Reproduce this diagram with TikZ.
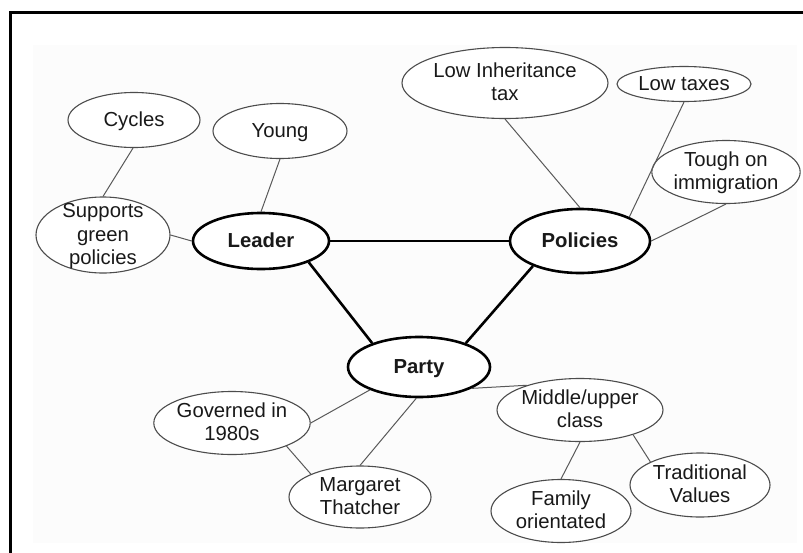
\documentclass[tikz,border=0pt]{standalone}
\usepackage{fontspec}
\setmainfont{Liberation Sans}
\usetikzlibrary{shapes.geometric}
\newcommand\ctx[1]{\smash{\raisebox{-6.5pt}{\begin{tabular}{@{}c@{}}#1\end{tabular}}}}
\begin{document}
\begin{tikzpicture}[x=1pt,y=-1pt,
  bub/.style={ellipse, draw=black!70, line width=1.1pt, inner sep=0pt, fill=white,
              font=\fontsize{20.3}{23.5}\selectfont, text=black!90},
  hub/.style={bub, draw=black, line width=2.6pt, font=\fontsize{20.3}{23.5}\selectfont\bfseries},
  thinline/.style={draw=black!65, line width=1pt},
  thickline/.style={draw=black, line width=2.6pt}]
\useasboundingbox (0,0) rectangle (803,552);
\fill[black!1] (33,45) rectangle (797,543);
\draw[line width=3pt, line cap=rect] (10,552) -- (10,12) -- (803,12);

% hubs
\node[hub, minimum width=136pt, minimum height=56pt] (leader) at (261,241) {\ctx{Leader}};
\node[hub, minimum width=140pt, minimum height=64pt] (policies) at (580,241) {\ctx{Policies}};
\node[hub, minimum width=142pt, minimum height=60pt] (party) at (419,367) {\ctx{Party}};

% leader branch
\node[bub, minimum width=132pt, minimum height=55pt] (cycles) at (134,120) {\ctx{Cycles}};
\node[bub, minimum width=134pt, minimum height=55pt] (young) at (280,131) {\ctx{Young}};
\node[bub, minimum width=134pt, minimum height=76pt] (green) at (103,235) {\ctx{Supports\\green\\policies}};

% policies branch
\node[bub, minimum width=206pt, minimum height=71pt] (inherit) at (505,83) {\ctx{Low Inheritance\\tax}};
\node[bub, minimum width=134pt, minimum height=35pt] (taxes) at (684,84) {\ctx{Low taxes}};
\node[bub, minimum width=142pt, minimum height=63pt] (tough) at (726,172) {\ctx{Tough on\\immigration}};

% party branch
\node[bub, minimum width=140pt, minimum height=63pt] (governed) at (232,423) {\ctx{Governed in\\1980s}};
\node[bub, minimum width=142pt, minimum height=62pt] (thatcher) at (360,497) {\ctx{Margaret\\Thatcher}};
\node[bub, minimum width=140pt, minimum height=63pt] (middle) at (580,410) {\ctx{Middle/upper\\class}};
\node[bub, minimum width=140pt, minimum height=63pt] (family) at (561,511) {\ctx{Family\\orientated}};
\node[bub, minimum width=140pt, minimum height=64pt] (values) at (700,485) {\ctx{Traditional\\Values}};

% thick connectors
\draw[thickline] (leader.east) -- (policies.west);
\draw[thickline] (leader.-24) -- (party.153);
\draw[thickline] (policies.-152) -- (party.27);

% thin connectors
\draw[thinline] (cycles.-92) -- (green.north);
\draw[thinline] (young.south) -- (leader.north);
\draw[thinline] (green.east) -- (leader.west);
\draw[thinline] (inherit.south) -- (policies.north);
\draw[thinline] (taxes.south) -- (policies.26);
\draw[thinline] (tough.south) -- (policies.east);
\draw[thinline] (party.-155) -- (governed.east);
\draw[thinline] (party.-95) -- (thatcher.north);
\draw[thinline] (party.-22) -- (middle.155);
\draw[thinline] (governed.-23) -- (thatcher.155);
\draw[thinline] (middle.south) -- (family.north);
\draw[thinline] (middle.-25) -- (values.155);
\end{tikzpicture}
\end{document}
